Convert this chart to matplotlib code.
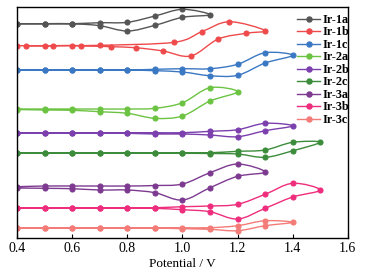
import matplotlib
matplotlib.use('Agg')
import matplotlib.pyplot as plt
import numpy as np
from matplotlib.path import Path
from matplotlib.patches import PathPatch
from matplotlib.lines import Line2D

plt.rcParams['font.family'] = ['Liberation Serif', 'DejaVu Serif']

# Curvas CV (potencial en V, corriente en unidades arbitrarias, desplazadas)
labels = ['Ir-1a', 'Ir-1b', 'Ir-1c', 'Ir-2a', 'Ir-2b', 'Ir-2c', 'Ir-3a', 'Ir-3b', 'Ir-3c']
colors = ['#555555', '#ee4a4c', '#3a78c4', '#6cc342', '#7b3fae', '#3c8c3c', '#7d3a90', '#ee2d7c', '#f47c78']
offsets = [214, 192, 167.7, 128.7, 105, 85, 51.7, 30, 10]

E_1a = [0.4, 0.5, 0.6, 0.7, 0.8, 0.9, 1.0, 1.1, 1.0, 0.9, 0.8, 0.7, 0.6, 0.5, 0.4]
I_1a = [0, 0, 0, 1, 1.4, 7.7, 14.4, 9, 6.4, -1.6, -7.3, -2, 0, 0, 0]

E_1b = [0.4, 0.5, 0.6, 0.7, 0.97, 1.07, 1.17, 1.3, 1.23, 1.13, 1.03, 0.93, 0.83, 0.74, 0.63, 0.53, 0.43]
I_1b = [0, 0, 0.2, 0.4, 3.4, 14, 24, 15.2, 12.4, 6.7, -10.3, -5.3, -2, -1, 0, 0, 0]

E_1c = [0.4, 0.5, 0.6, 0.7, 0.8, 0.9, 1.0, 1.1, 1.2, 1.3, 1.4, 1.3, 1.2, 1.1, 1.0, 0.9, 0.8, 0.7, 0.6, 0.5, 0.4]
I_1c = [0, 0, 0, 0, 0, 0.7, 1.3, 1.3, 5.7, 17.3, 14.7, 7, -5.3, -5.7, -2, -0.7, 0, 0, 0, 0, 0]

E_2a = [0.4, 0.5, 0.6, 0.7, 0.8, 0.9, 1.0, 1.1, 1.2, 1.1, 1.0, 0.9, 0.8, 0.7, 0.6, 0.5, 0.4]
I_2a = [0, 0, 0, 0, 0, 0.7, 6.3, 21.3, 17.3, 8, -7, -9.3, -4.3, -2.7, -1.3, -1, -0.5]

E_2b = [0.4, 0.5, 0.6, 0.7, 0.8, 0.9, 1.0, 1.1, 1.2, 1.3, 1.4, 1.3, 1.2, 1.1, 1.0, 0.9, 0.8, 0.7, 0.6, 0.5, 0.4]
I_2b = [0, 0, 0, 0, 0, 0, 0, 1.4, 3, 9.4, 6.9, 2, -4, -2.3, -1.3, -1.3, -0.6, -0.3, -0.3, -0.3, -0.3]

E_2c = [0.4, 0.5, 0.6, 0.7, 0.8, 0.9, 1.0, 1.1, 1.2, 1.3, 1.4, 1.5, 1.4, 1.3, 1.2, 1.1, 1.0, 0.9, 0.8, 0.7, 0.6, 0.5, 0.4]
I_2c = [0, 0, 0, 0, 0, 0, 0, 0, 1.4, 2.7, 10.4, 10.5, 1.9, -4.6, -1.3, -0.8, -0.6, -0.6, -0.6, -0.6, -0.6, -0.6, -0.6]

E_3a = [0.4, 0.5, 0.6, 0.7, 0.8, 0.9, 1.0, 1.1, 1.2, 1.3, 1.2, 1.1, 1.0, 0.9, 0.8, 0.7, 0.6, 0.5, 0.4]
I_3a = [-0.7, 0, 0, 0, 0, 0.5, 2, 13.3, 22, 14, 9.7, -1.7, -14, -6.7, -4, -4, -2.7, -2.3, -2]

E_3b = [0.4, 0.5, 0.6, 0.7, 0.8, 0.9, 1.0, 1.1, 1.2, 1.3, 1.4, 1.5, 1.4, 1.3, 1.2, 1.1, 1.0, 0.9, 0.8, 0.7, 0.6, 0.5, 0.4]
I_3b = [0, 0, 0, 0, 0, 0, 1, 1.7, 3.4, 13.4, 24.4, 17.7, 10.7, -0.6, -11.3, -4, -2, -0.6, -0.3, -0.3, -0.3, -0.3, -0.3]

E_3c = [0.4, 0.5, 0.6, 0.7, 0.8, 0.9, 1.0, 1.1, 1.2, 1.3, 1.4, 1.3, 1.2, 1.1, 1.0, 0.9, 0.8, 0.7, 0.6, 0.5, 0.4]
I_3c = [0, 0, 0, 0, 0, 0, 0, 0, 2, 7, 5.4, 2, -3, -1.6, -1, -0.3, -0.3, -0.3, -0.3, -0.3, -0.3]

E_all = [E_1a, E_1b, E_1c, E_2a, E_2b, E_2c, E_3a, E_3b, E_3c]
I_all = [I_1a, I_1b, I_1c, I_2a, I_2b, I_2c, I_3a, I_3b, I_3c]


def curva_suave(x, y):
    # Camino Bezier (Catmull-Rom) que pasa por los puntos medidos
    pts = np.column_stack([x, y])
    n = len(pts)
    verts = [pts[0]]
    codes = [Path.MOVETO]
    for i in range(n - 1):
        p0 = pts[max(i - 1, 0)]
        p1 = pts[i]
        p2 = pts[i + 1]
        p3 = pts[min(i + 2, n - 1)]
        verts += [p1 + (p2 - p0) / 6, p2 - (p3 - p1) / 6, p2]
        codes += [Path.CURVE4] * 3
    return Path(verts, codes)


fig = plt.figure(figsize=(3.76, 2.75), dpi=100)
ax = fig.add_axes([0.046, 0.1356, 0.8787, 0.8389])

handles = []
for E, I, off, c, lab in zip(E_all, I_all, offsets, colors, labels):
    y = np.array(I) + off
    ax.add_patch(PathPatch(curva_suave(E, y), facecolor='none', edgecolor=c, lw=1.0))
    ax.plot(E, y, ls='none', marker='o', ms=3.6, color=c, mec=c, mew=0.8)
    handles.append(Line2D([], [], color=c, lw=1.0, marker='o', ms=3.6))

ax.set_xlim(0.4, 1.6)
ax.set_ylim(0, 230.7)
ax.set_xticks([0.4, 0.6, 0.8, 1.0, 1.2, 1.4, 1.6])
ax.set_xticklabels(['0.4', '0.6', '0.8', '1.0', '1.2', '1.4', '1.6'])
ax.set_yticks([])
ax.tick_params(axis='x', direction='in', length=3, width=0.8, labelsize=10, pad=3)
for s in ax.spines.values():
    s.set_linewidth(1.0)
ax.set_xlabel('Potential / V', fontsize=9.5, labelpad=2)

fig.legend(handles, labels, loc='upper left', bbox_to_anchor=(297 / 376, 1 - 14 / 275),
           frameon=False, borderpad=0, borderaxespad=0, handlelength=1.9, handletextpad=0.15,
           labelspacing=0.04, prop={'weight': 'bold', 'size': 8.8})

fig.savefig('out.png', dpi=100)
